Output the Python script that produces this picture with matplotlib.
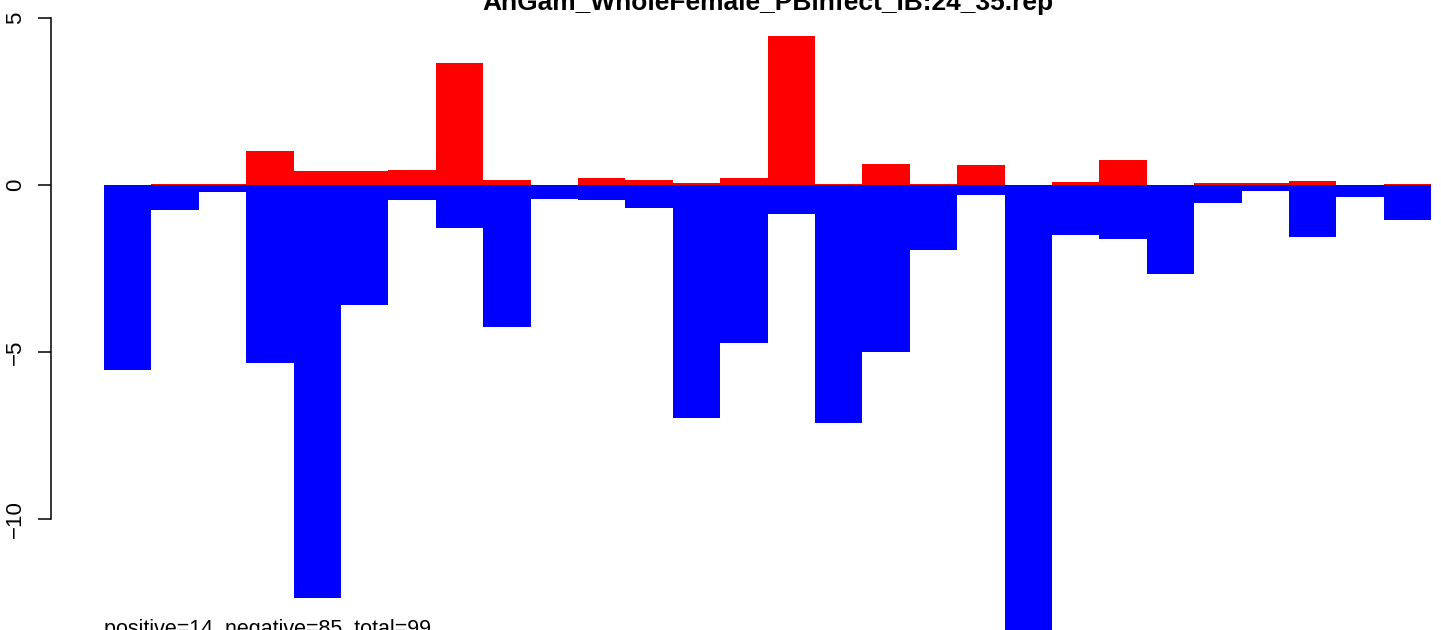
import matplotlib.pyplot as plt
import numpy as np

plt.rcParams['font.family'] = ['Liberation Sans', 'DejaVu Sans']

# Chart texts
title = "AnGam_WholeFemale_PBinfect_IB:24_35.rep"
note = "positive=14, negative=85, total=99"

# Positive (red) and negative (blue) parts of each bar
red_values = [0, 0.04, 0.04, 1.02, 0.42, 0.42, 0.45, 3.65, 0.15, 0, 0.21, 0.15, 0.06, 0.21,
              4.46, 0.04, 0.63, 0.04, 0.60, 0, 0.09, 0.75, 0, 0.06, 0.06, 0.12, 0, 0.03]
blue_values = [-5.54, -0.75, -0.21, -5.33, -12.37, -3.59, -0.45, -1.29, -4.25, -0.42, -0.45, -0.69,
               -6.98, -4.73, -0.87, -7.13, -5.00, -1.95, -0.30, -13.6, -1.50, -1.62, -2.66, -0.54,
               -0.18, -1.56, -0.36, -1.05]
y_ticks = [-10, -5, 0, 5]

W, H = 1441, 630
fig = plt.figure(figsize=(W / 100, H / 100), dpi=100)

# Plot region in pixels (the original picture is cropped, so it runs past the right/bottom edges)
n = len(red_values)
xlim = (-0.04 * n, n + 0.04 * n)
ylim = (-14, 5.6)
px_left, px_right = 51, 1484.3
px_zero, px_per_unit = 185, 33.4
px_top = px_zero - ylim[1] * px_per_unit
px_bottom = px_zero - ylim[0] * px_per_unit
ax = fig.add_axes([px_left / W, 1 - px_bottom / H, (px_right - px_left) / W, (px_bottom - px_top) / H])

x = np.arange(n)
ax.bar(x, red_values, width=1.0, align='edge', color='#ff0000', edgecolor='none')
ax.bar(x, blue_values, width=1.0, align='edge', color='#0000ff', edgecolor='none')

ax.set_xlim(xlim)
ax.set_ylim(ylim)

# R style axis: only left, spanning the ticks
for side in ['top', 'right', 'bottom']:
    ax.spines[side].set_visible(False)
ax.spines['left'].set_bounds(y_ticks[0], y_ticks[-1])
ax.spines['left'].set_linewidth(1.1)
ax.set_xticks([])
ax.set_yticks(y_ticks)
ax.set_yticklabels([str(t).replace('-', '\u2212') for t in y_ticks])
ax.tick_params(axis='y', length=9.4, width=1.1, pad=8.5, labelsize=16)
plt.setp(ax.get_yticklabels(), rotation=90, va='center')

# Title (cut at the top) and note (cut at the bottom)
fig.text(767.5 / W, 1 - 10 / H, title, ha='center', va='baseline', fontsize=19, fontweight='bold')
fig.text(104 / W, 1 - 635 / H, note, ha='left', va='baseline', fontsize=15.5)

plt.savefig("out.png", dpi=100)
